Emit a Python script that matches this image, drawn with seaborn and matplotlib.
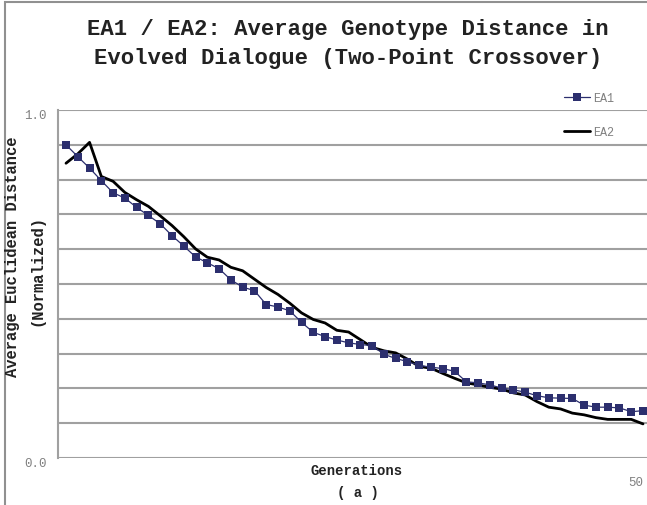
import numpy as np
import pandas as pd
import matplotlib
matplotlib.use("Agg")
import matplotlib.pyplot as plt
import matplotlib.transforms as mtransforms
import seaborn as sns
from matplotlib.lines import Line2D
from matplotlib.patches import Rectangle

# ---- data ----
generations = list(range(1, 51))
ea1 = [0.900, 0.866, 0.833, 0.797, 0.762, 0.747, 0.720, 0.697, 0.673, 0.639,
       0.609, 0.578, 0.561, 0.544, 0.512, 0.491, 0.481, 0.441, 0.434, 0.423,
       0.390, 0.361, 0.349, 0.339, 0.331, 0.326, 0.323, 0.298, 0.286, 0.277,
       0.266, 0.261, 0.257, 0.249, 0.219, 0.216, 0.210, 0.201, 0.196, 0.189,
       0.179, 0.173, 0.172, 0.171, 0.152, 0.146, 0.146, 0.144, 0.133, 0.136]
ea2 = [0.847, 0.874, 0.907, 0.809, 0.795, 0.763, 0.742, 0.723, 0.696, 0.668,
       0.636, 0.601, 0.577, 0.569, 0.548, 0.538, 0.514, 0.490, 0.470, 0.445,
       0.417, 0.398, 0.388, 0.367, 0.362, 0.340, 0.318, 0.308, 0.302, 0.284,
       0.263, 0.258, 0.243, 0.229, 0.216, 0.210, 0.203, 0.198, 0.187, 0.181,
       0.162, 0.146, 0.141, 0.129, 0.124, 0.116, 0.111, 0.111, 0.111, 0.098]
series_names = ["EA1", "EA2"]
title = "EA1 / EA2: Average Genotype Distance in\nEvolved Dialogue (Two-Point Crossover)"
ylabel1 = "Average Euclidean Distance"
ylabel2 = "(Normalized)"
xlabel1 = "Generations"
xlabel2 = "( a )"

df = pd.DataFrame({"gen": generations, "EA1": ea1, "EA2": ea2})

sns.set_theme(style="white")
plt.rcParams["font.family"] = ["Liberation Mono", "DejaVu Sans Mono"]

W, H = 647, 506
fig = plt.figure(figsize=(W / 100, H / 100), dpi=100)
fig.patch.set_facecolor("white")

# axes: left 58px, top 111px, bottom 459px
ax = fig.add_axes([58 / W, (H - 459) / H, (W - 58) / W, 348 / H])
ax.set_facecolor("white")

ea1_color = "#2c2f6e"
sns.lineplot(data=df, x="gen", y="EA1", ax=ax, color=ea1_color, linewidth=0.9,
             marker="s", markersize=5.4, markeredgewidth=0, zorder=4)
sns.lineplot(data=df, x="gen", y="EA2", ax=ax, color="black", linewidth=2.0, zorder=3)

ax.set_xlim(0.32, 50.34)
ax.set_ylim(0, 1.0)
ax.set_yticks(np.round(np.arange(0, 1.01, 0.1), 1))
ax.set_yticklabels(["0.0"] + [""] * 9 + ["1.0"])
ax.set_xticks([50])
ax.set_xticklabels(["50"], ha="right")
ax.tick_params(axis="y", length=0, pad=8, labelsize=9, labelcolor="#808080")
ax.tick_params(axis="x", length=0, pad=13, labelsize=9, labelcolor="#808080")
off = mtransforms.ScaledTranslation(0, -4 / 100, fig.dpi_scale_trans)
for lab in ax.get_yticklabels():
    lab.set_transform(lab.get_transform() + off)
ax.grid(axis="y", color="#a0a0a0", linewidth=1.5)
ax.grid(axis="x", visible=False)
ax.set_axisbelow(True)
for s in ["top", "right", "bottom"]:
    ax.spines[s].set_visible(False)
ax.spines["left"].set_color("#a0a0a0")
ax.spines["left"].set_linewidth(1.5)
ax.set_xlabel("")
ax.set_ylabel("")

# title
fig.text(348 / W, 1 - 44 / H, title, ha="center", va="center", fontsize=16,
         fontweight="bold", color="#222222", linespacing=1.55)

# y labels
fig.text(13 / W, 1 - 257 / H, ylabel1, rotation=90, ha="center", va="center",
         fontsize=11.2, fontweight="bold", color="#222222")
fig.text(37 / W, 1 - 271 / H, ylabel2, rotation=90, ha="center", va="center",
         fontsize=11.2, fontweight="bold", color="#222222")

# x labels
fig.text(357 / W, 1 - 471 / H, xlabel1, ha="center", va="center", fontsize=10,
         fontweight="bold", color="#222222")
fig.text(358 / W, 1 - 493 / H, xlabel2, ha="center", va="center", fontsize=10,
         fontweight="bold", color="#222222")

# legend
handles = [Line2D([0], [0], color=ea1_color, linewidth=0.9, marker="s", markersize=5.4,
                  markeredgewidth=0),
           Line2D([0], [0], color="black", linewidth=2.0)]
leg = fig.legend(handles, series_names, loc="upper left",
                 bbox_to_anchor=(564 / W, 1 - 93 / H), frameon=False,
                 fontsize=8.5, handlelength=2.2, handletextpad=0.25,
                 labelspacing=1.85, borderpad=0, borderaxespad=0)
for t in leg.get_texts():
    t.set_color("#808080")

# figure border (left & top visible)
fig.patches.append(Rectangle((5 / W, -0.1), 1.2, 1.1 - 3 / H, transform=fig.transFigure,
                             fill=False, edgecolor="#909090", linewidth=1.5))

fig.savefig("out.png", dpi=100, facecolor="white")
